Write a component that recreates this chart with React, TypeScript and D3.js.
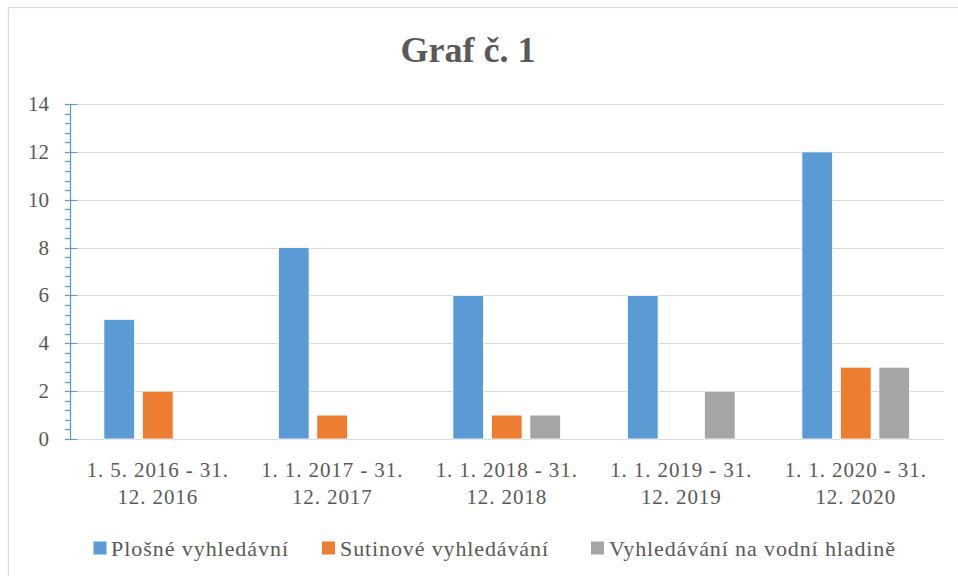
import React from "react";
import * as d3 from "d3";

const categories: string[][] = [
  ["1. 5. 2016 - 31.", "12. 2016"],
  ["1. 1. 2017 - 31.", "12. 2017"],
  ["1. 1. 2018 - 31.", "12. 2018"],
  ["1. 1. 2019 - 31.", "12. 2019"],
  ["1. 1. 2020 - 31.", "12. 2020"],
];
const seriesNames = ["Plošné vyhledávní", "Sutinové vyhledávání", "Vyhledávání na vodní hladině"];
const plosne = [5, 8, 6, 6, 12];
const sutinove = [2, 1, 1, 0, 3];
const vodni = [0, 0, 1, 2, 3];
const seriesColors = ["#5B9BD5", "#ED7D31", "#A5A5A5"];
const yTicks = [0, 2, 4, 6, 8, 10, 12, 14];
const title = "Graf č. 1";

const FONT = "Liberation Serif";
const TXT = "#595959";

export default function App() {
  const W = 958, H = 576;
  const left = 70.5, right = 943, top = 104, bottom = 439;
  const seriesValues = [plosne, sutinove, vodni];
  const catKeys = categories.map((c) => c.join(" "));
  const x = d3.scaleBand<string>().domain(catKeys).range([left, right]).paddingInner(0).paddingOuter(0);
  const xs = d3.scaleBand<number>().domain([0, 1, 2]).range([0, x.bandwidth()]).paddingInner(0.203).paddingOuter(0.868);
  const y = d3.scaleLinear().domain([0, 14]).range([bottom, top]);
  const minor = d3.range(0, 14.001, 0.4).filter((v) => Math.abs(v / 2 - Math.round(v / 2)) > 1e-6);

  const legendItems = [
    { sq: 93.5, tx: 111, w: 177 },
    { sq: 322, tx: 340, w: 208 },
    { sq: 591, tx: 609, w: 286 },
  ];

  return (
    <svg width={W} height={H} style={{ position: "absolute", left: 0, top: 0, background: "#fff" }}>
      <rect x={0} y={0} width={W} height={H} fill="#fff" />
      <rect x={8.5} y={7.5} width={1000} height={700} fill="#fff" stroke="#d9d9d9" strokeWidth={1.2} />
      <text x={468} y={62} textAnchor="middle" fontFamily={FONT} fontWeight="bold" fontSize={36} fill={TXT}>
        {title}
      </text>
      {yTicks.map((t) => (
        <line key={t} x1={left} x2={right} y1={Math.round(y(t)) + 0.5} y2={Math.round(y(t)) + 0.5} stroke="#d9d9d9" strokeWidth={1.2} />
      ))}
      {yTicks.map((t) => (
        <text key={"l" + t} x={49} y={y(t) + 7} textAnchor="end" fontFamily={FONT} fontSize={21} fill={TXT}>
          {t}
        </text>
      ))}
      {seriesValues.map((vals, si) =>
        vals.map((v, ci) =>
          v > 0 ? (
            <rect
              key={si + "-" + ci}
              x={(x(catKeys[ci]) as number) + (xs(si) as number)}
              y={y(v)}
              width={xs.bandwidth()}
              height={y(0) - y(v)}
              fill={seriesColors[si]}
              stroke="#fff"
              strokeWidth={0.8}
            />
          ) : null
        )
      )}
      <line x1={left} x2={left} y1={top} y2={bottom} stroke="#5B9BD5" strokeWidth={1.3} />
      {yTicks.map((t) => (
        <line key={"mt" + t} x1={65} x2={77} y1={Math.round(y(t)) + 0.5} y2={Math.round(y(t)) + 0.5} stroke="#5B9BD5" strokeWidth={1.2} />
      ))}
      {minor.map((t, i) => (
        <line key={"mn" + i} x1={65} x2={left} y1={Math.round(y(t)) + 0.5} y2={Math.round(y(t)) + 0.5} stroke="#5B9BD5" strokeWidth={1.2} />
      ))}
      {categories.map((c, i) => {
        const cx = (x(catKeys[i]) as number) + x.bandwidth() / 2;
        return (
          <g key={"x" + i}>
            <text x={cx} y={477} textAnchor="middle" fontFamily={FONT} fontSize={21} letterSpacing={0.9} fill={TXT}>
              {c[0]}
            </text>
            <text x={cx} y={503.5} textAnchor="middle" fontFamily={FONT} fontSize={21} letterSpacing={0.9} fill={TXT}>
              {c[1]}
            </text>
          </g>
        );
      })}
      {seriesNames.map((n, i) => (
        <g key={"lg" + i}>
          <rect x={legendItems[i].sq} y={541.5} width={13} height={13} fill={seriesColors[i]} />
          <text x={legendItems[i].tx} y={556} fontFamily={FONT} fontSize={22} fill={TXT} textLength={legendItems[i].w} lengthAdjust="spacing">
            {n}
          </text>
        </g>
      ))}
    </svg>
  );
}
